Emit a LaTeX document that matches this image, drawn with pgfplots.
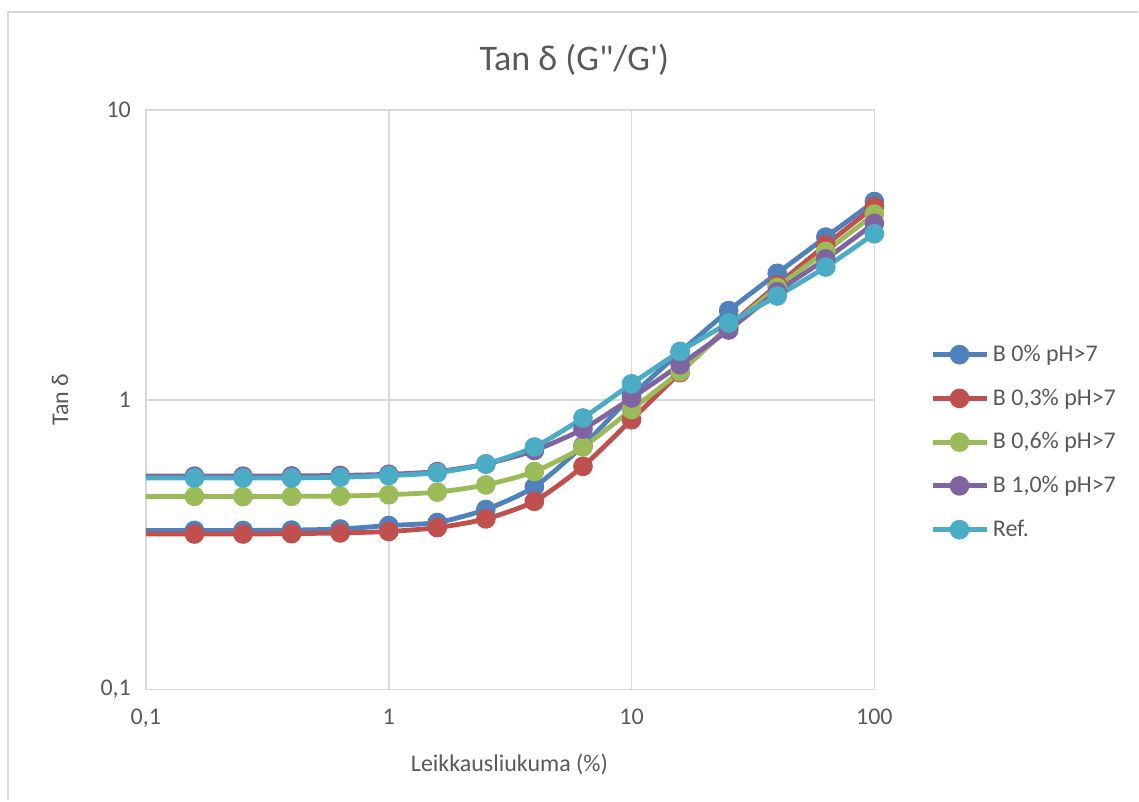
\documentclass[border=0pt]{standalone}
\usepackage{pgfplots}
\pgfplotsset{compat=1.18}
\usepackage{fontspec}
\setmainfont{Carlito}

\definecolor{txt}{HTML}{595959}
\definecolor{gridc}{HTML}{D9D9D9}
\definecolor{frame}{HTML}{D9D9D9}
\definecolor{sBlue}{HTML}{4F81BD}
\definecolor{sRed}{HTML}{C0504D}
\definecolor{sGreen}{HTML}{9BBB59}
\definecolor{sPurple}{HTML}{8064A2}
\definecolor{sCyan}{HTML}{4BACC6}

\pgfplotstableread{
x      b0     b03    b06    b10    ref
0.1    0.354  0.344  0.464  0.545  0.537
0.1585 0.354  0.344  0.464  0.545  0.537
0.2512 0.354  0.344  0.463  0.545  0.537
0.3981 0.355  0.345  0.464  0.546  0.537
0.631  0.358  0.347  0.465  0.548  0.540
1      0.368  0.351  0.470  0.553  0.547
1.585  0.377  0.362  0.480  0.565  0.560
2.512  0.418  0.388  0.508  0.600  0.600
3.981  0.500  0.446  0.565  0.668  0.687
6.31   0.694  0.589  0.687  0.792  0.865
10     1.030  0.853  0.924  1.014  1.135
15.85  1.460  1.240  1.250  1.320  1.468
25.12  2.030  1.790  1.770  1.740  1.840
39.81  2.730  2.490  2.440  2.360  2.280
63.1   3.640  3.420  3.250  3.060  2.870
100    4.830  4.640  4.370  4.060  3.740
}\tandata

\begin{document}
\begin{tikzpicture}[x=1pt,y=1pt]
  % page extent and chart frame
  \path (0,0) rectangle (569.5,400.5);
  \draw[frame, line width=0.8pt] (4,0) -- (4,394.5) -- (569.5,394.5);
  \begin{axis}[
    at={(73pt,55.5pt)}, anchor=south west,
    scale only axis, width=364.5pt, height=290pt,
    xmode=log, ymode=log,
    xmin=0.1, xmax=100, ymin=0.1, ymax=10,
    xtick={0.1,1,10,100}, xticklabels={{0,1},1,10,100},
    ytick={0.1,1,10}, yticklabels={{0,1},1,10},
    minor xtick={}, minor ytick={},
    major tick length=0pt, minor tick length=0pt,
    tick style={draw=none}, minor tick style={draw=none},
    grid=major,
    major grid style={gridc, line width=0.8pt},
    axis line style={gridc, line width=0.8pt},
    ticklabel style={font=\fontsize{12}{14}\selectfont, text=txt},
    yticklabel style={xshift=-4pt},
    xticklabel style={yshift=-6pt},
    title={Tan δ (G\textquotedbl/G\textquotesingle)},
    title style={font=\fontsize{18}{21}\selectfont, text=txt, at={(axis description cs:0.588,1.065)}, anchor=center},
    xlabel={Leikkausliukuma (\%)},
    xlabel style={font=\fontsize{12}{14}\selectfont, text=txt, at={(axis description cs:0.499,-0.129)}, anchor=center},
    ylabel={Tan δ},
    ylabel style={font=\fontsize{12}{14}\selectfont, text=txt, at={(axis description cs:-0.118,0.5)}, anchor=center},
    legend style={at={(axis description cs:1.076,0.602)}, anchor=north west,
      draw=none, fill=none, font=\fontsize{12}{14}\selectfont, text=txt,
      row sep=8.2pt, inner sep=0pt},
    legend cell align=left,
    legend image code/.code={
      \draw[mark repeat=2, mark phase=2] plot coordinates {(0pt,0pt) (13.5pt,0pt) (27pt,0pt)};
    },
    every axis plot/.append style={line width=2.4pt, smooth, tension=0.4,
      mark=*, mark size=3.7pt, mark phase=2, mark repeat=1,
      mark options={solid}},
  ]
    \addplot[sBlue, mark options={fill=sBlue, draw=sBlue}] table[x=x, y=b0] {\tandata};
    \addlegendentry{B 0\% pH>7}
    \addplot[sRed, mark options={fill=sRed, draw=sRed}] table[x=x, y=b03] {\tandata};
    \addlegendentry{B 0,3\% pH>7}
    \addplot[sGreen, mark options={fill=sGreen, draw=sGreen}] table[x=x, y=b06] {\tandata};
    \addlegendentry{B 0,6\% pH>7}
    \addplot[sPurple, mark options={fill=sPurple, draw=sPurple}] table[x=x, y=b10] {\tandata};
    \addlegendentry{B 1,0\% pH>7}
    \addplot[sCyan, mark options={fill=sCyan, draw=sCyan}] table[x=x, y=ref] {\tandata};
    \addlegendentry{Ref.}
  \end{axis}
\end{tikzpicture}
\end{document}
